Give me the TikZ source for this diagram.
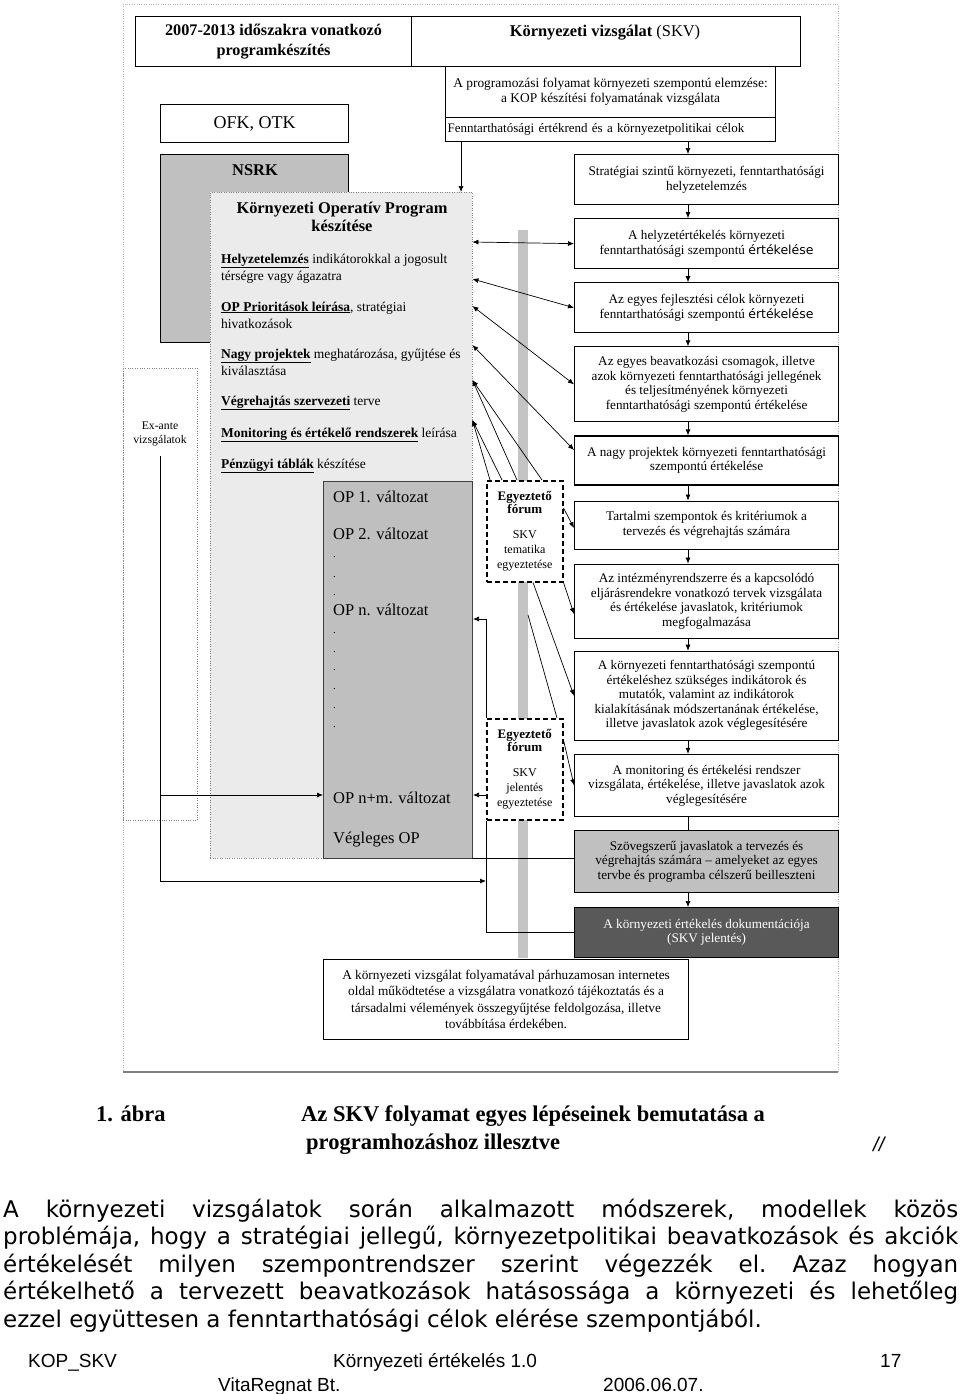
\documentclass[tikz,border=0pt]{standalone}
\usepackage{fontspec}
\setmainfont{Liberation Serif}
\newfontfamily\bodyfont{DejaVu Sans}
\newfontfamily\footfont{Liberation Sans}
\usetikzlibrary{arrows.meta,positioning}

\definecolor{nsrkgrey}{HTML}{C0C0C0}
\definecolor{kopgrey}{HTML}{EBEBEB}
\definecolor{opgrey}{HTML}{BFBFBF}
\definecolor{bargrey}{HTML}{C4C4C4}
\definecolor{docgrey}{HTML}{595959}

\newcommand{\boxfont}{\fontsize{13.2}{14.5}\selectfont}
\newcommand{\forumhead}{\bfseries\fontsize{13}{15}\selectfont}
\newcommand{\forumsmall}{\mdseries\fontsize{12}{15}\selectfont}
\newcommand{\kopitem}[1]{\underline{\textbf{#1}}}
\newcommand{\ertek}{{\bodyfont\fontsize{12.5}{14.5}\selectfont értékelése}}

\tikzset{
  skvbox/.style={draw=black, line width=1.1pt, fill=white, minimum width=264pt, inner sep=2pt, align=center, font=\boxfont},
  link/.style={-{Latex[length=6pt,width=5pt]}, line width=0.7pt},
  twoway/.style={{Latex[length=6pt,width=5pt]}-{Latex[length=6pt,width=5pt]}, line width=0.7pt},
  forum/.style={draw=black, dash pattern=on 5pt off 3pt, line width=1.5pt, fill=white, minimum width=76pt, minimum height=101pt, anchor=north west, align=center, inner sep=0pt, font=\fontsize{12}{15}\selectfont},
  optext/.style={anchor=base west, inner sep=0pt, font=\fontsize{16.5}{18}\selectfont},
  opdot/.style={anchor=base west, inner sep=0pt, font=\fontsize{11}{12}\selectfont},
  itemtext/.style={anchor=base west, align=left, inner sep=0pt, font=\fontsize{13.5}{17}\selectfont},
  bodyline/.style={anchor=base west, inner sep=0pt, font=\bodyfont\fontsize{23}{27.5}\selectfont\frenchspacing},
  footline/.style={anchor=base west, inner sep=0pt, font=\footfont\fontsize{19}{21}\selectfont},
}

\begin{document}
\begin{tikzpicture}[x=1pt,y=-1pt]
\fill[white] (0,0) rectangle (960,1394);
\useasboundingbox (0,0) rectangle (960,1394);

% outer frame
\draw[gray!60, dotted] (123,4) rectangle (838,1072);
\draw[gray, line width=2pt] (123,1072) -- (838,1072);

% headings
\node[draw, line width=1.1pt, minimum width=276pt, minimum height=50pt, anchor=north west, align=center, inner sep=0pt, font=\bfseries\fontsize{16.2}{20}\selectfont] (prog) at (135,16) {2007-2013 időszakra vonatkozó\\programkészítés};
\node[draw, line width=1.1pt, minimum width=389pt, minimum height=50pt, anchor=north west, inner sep=0pt] (skvhead) at (411,16) {};
\node[font=\fontsize{16.4}{18}\selectfont] (skvtitle) at (605,33) {\textbf{Környezeti vizsgálat} (SKV)};
\node[draw, line width=1.1pt, minimum width=330pt, minimum height=51pt, anchor=north west, align=center, inner sep=0pt, font=\fontsize{13.4}{15}\selectfont] (progelem) at (445,66) {A programozási folyamat környezeti szempontú elemzése:\\a KOP készítési folyamatának vizsgálata};
\node[draw, line width=1.1pt, minimum width=330pt, minimum height=24pt, anchor=north west, text width=326pt, align=left, inner sep=2pt, font=\fontsize{13}{14}\selectfont] (celok) at (445,117) {Fenntarthatósági értékrend és a környezetpolitikai célok};

% left column
\node[draw, line width=1.1pt, minimum width=188pt, minimum height=38pt, anchor=north west, font=\fontsize{18}{20}\selectfont] (ofk) at (160,104) {OFK, OTK};
\node[draw, line width=1.1pt, fill=nsrkgrey, minimum width=188pt, minimum height=188pt, anchor=north west] (nsrk) at (160,154) {};
\node[font=\bfseries\fontsize{16.4}{18}\selectfont] (nsrktext) at (255,170) {NSRK};
\node[draw=gray, dotted, minimum width=74pt, minimum height=452pt, anchor=north west] (exbox) at (123,368) {};
\node[align=center, font=\fontsize{11.7}{14}\selectfont] (exante) at (160,434) {Ex-ante\\vizsgálatok};
\node[draw=gray, dotted, fill=kopgrey, minimum width=262pt, minimum height=666pt, anchor=north west] (kop) at (210,192) {};
\node[align=center, font=\bfseries\fontsize{16.4}{18}\selectfont] (koptitle) at (342,217) {Környezeti Operatív Program\\készítése};
\node[itemtext] (item1) at (221,280) {\kopitem{Helyzetelemzés} indikátorokkal a jogosult\\térségre vagy ágazatra};
\node[itemtext] (item2) at (221,328) {\kopitem{OP Prioritások leírása}, stratégiai\\hivatkozások};
\node[itemtext] (item3) at (221,375) {\kopitem{Nagy projektek} meghatározása, gyűjtése és\\kiválasztása};
\node[itemtext] (item4) at (221,405) {\kopitem{Végrehajtás szervezeti} terve};
\node[itemtext] (item5) at (221,437) {\kopitem{Monitoring és értékelő rendszerek} leírása};
\node[itemtext] (item6) at (221,468) {\kopitem{Pénzügyi táblák} készítése};

% program versions
\node[draw=darkgray, line width=1pt, fill=opgrey, minimum width=149pt, minimum height=377pt, anchor=north west] (op) at (323,481) {};
\node[optext] (op1) at (333,502) {OP 1. változat};
\node[optext] (op2) at (333,539) {OP 2. változat};
\node[opdot] (dot1) at (333,557) {.};
\node[opdot] (dot2) at (333,577) {.};
\node[opdot] (dot3) at (333,595) {.};
\node[optext] (opn) at (333,615) {OP n. változat};
\node[opdot] (dot4) at (333,633) {.};
\node[opdot] (dot5) at (333,652) {.};
\node[opdot] (dot6) at (333,670) {.};
\node[opdot] (dot7) at (333,689) {.};
\node[opdot] (dot8) at (333,708) {.};
\node[opdot] (dot9) at (333,727) {.};
\node[optext] (opnm) at (333,803) {OP n+m. változat};
\node[optext] (opfinal) at (333,843) {Végleges OP};

% grey bar and forums
\node[fill=bargrey, minimum width=10pt, minimum height=728pt, anchor=north, inner sep=0pt] (bar) at (523,230) {};
\node[forum] (forum1) at (486,480) {\forumhead Egyeztető\\[-2pt]\forumhead fórum\\[10pt]\forumsmall SKV\\\forumsmall tematika\\\forumsmall egyeztetése};
\node[forum] (forum2) at (486,718) {\forumhead Egyeztető\\[-2pt]\forumhead fórum\\[10pt]\forumsmall SKV\\\forumsmall jelentés\\\forumsmall egyeztetése};

% SKV steps
\node[skvbox, minimum height=50pt, anchor=north west] (s1) at (574,154) {Stratégiai szintű környezeti, fenntarthatósági\\helyzetelemzés};
\node[skvbox, minimum height=50pt, below=13pt of s1] (s2) {A helyzetértékelés környezeti\\fenntarthatósági szempontú \ertek};
\node[skvbox, minimum height=50pt, below=13pt of s2] (s3) {Az egyes fejlesztési célok környezeti\\fenntarthatósági szempontú \ertek};
\node[skvbox, minimum height=75pt, below=13pt of s3] (s4) {Az egyes beavatkozási csomagok, illetve\\azok környezeti fenntarthatósági jellegének\\és teljesítményének környezeti\\fenntarthatósági szempontú értékelése};
\node[skvbox, minimum height=49pt, below=13pt of s4] (s5) {A nagy projektek környezeti fenntarthatósági\\szempontú értékelése};
\node[skvbox, minimum height=48pt, below=15pt of s5] (s6) {Tartalmi szempontok és kritériumok a\\tervezés és végrehajtás számára};
\node[skvbox, minimum height=74pt, below=14pt of s6] (s7) {Az intézményrendszerre és a kapcsolódó\\eljárásrendekre vonatkozó tervek vizsgálata\\és értékelése javaslatok, kritériumok\\megfogalmazása};
\node[skvbox, minimum height=89pt, below=12pt of s7] (s8) {A környezeti fenntarthatósági szempontú\\értékeléshez szükséges indikátorok és\\mutatók, valamint az indikátorok\\kialakításának módszertanának értékelése,\\illetve javaslatok azok véglegesítésére};
\node[skvbox, minimum height=62pt, below=13pt of s8] (s9) {A monitoring és értékelési rendszer\\vizsgálata, értékelése, illetve javaslatok azok\\véglegesítésére};
\node[skvbox, fill=nsrkgrey, minimum height=62pt, below=13pt of s9] (s10) {Szövegszerű javaslatok a tervezés és\\végrehajtás számára -- amelyeket az egyes\\tervbe és programba célszerű beilleszteni};
\node[skvbox, fill=docgrey, text=white, minimum height=50pt, below=14pt of s10] (s11) {A környezeti értékelés dokumentációja\\(SKV jelentés)};

\node[draw, line width=1.1pt, minimum width=365pt, minimum height=80pt, anchor=north west, align=center, font=\fontsize{13.3}{16.5}\selectfont] (web) at (323,959) {A környezeti vizsgálat folyamatával párhuzamosan internetes\\oldal működtetése a vizsgálatra vonatkozó tájékoztatás és a\\társadalmi vélemények összegyűjtése feldolgozása, illetve\\továbbítása érdekében.};

% connectors
\draw[link] (celok.south -| 461,0) -- (kop.north -| 461,0);
\draw[link] (celok.south -| 688,0) -- (s1.north -| 688,0);
\draw[link] (s1.south -| 688,0) -- (s2.north -| 688,0);
\draw[link] (s2.south -| 688,0) -- (s3.north -| 688,0);
\draw[link] (s3.south -| 688,0) -- (s4.north -| 688,0);
\draw[link] (s4.south -| 688,0) -- (s5.north -| 688,0);
\draw[link] (s5.south -| 688,0) -- (s6.north -| 688,0);
\draw[link] (s6.south -| 688,0) -- (s7.north -| 688,0);
\draw[link] (s7.south -| 688,0) -- (s8.north -| 688,0);
\draw[link] (s8.south -| 688,0) -- (s9.north -| 688,0);
\draw[line width=0.7pt] (s9.south -| 688,0) -- (s10.north -| 688,0);
\draw[link] (s10.south -| 688,0) -- (s11.north -| 688,0);

\draw[twoway] (kop.east |- 0,242) -- (s2.west);
\draw[twoway] (kop.east |- 0,279) -- (s3.west);
\draw[twoway] (kop.east |- 0,306) -- (s4.west);
\draw[twoway] (kop.east |- 0,345) -- (s5.west |- 0,450);
\draw[link] (forum1.north -| 517,0) -- (kop.east |- 0,380);
\draw[link] (forum1.north -| 542,0) -- (kop.east |- 0,380);
\draw[link] (forum1.north -| 490,0) -- (kop.east |- 0,420);
\draw[link] (forum1.north -| 502,0) -- (kop.east |- 0,420);
\draw[link] (forum1.east |- 0,508) -- (s6.west |- 0,528);
\draw[link] (forum1.south east) -- (s7.west |- 0,614);
\draw[link] (forum1.south -| 533,0) -- (s8.west);
\coordinate (barmid) at (528,615);
\draw[line width=0.7pt] (barmid) -- (forum2.north -| 557,0);
\draw[link] (forum2.east |- 0,740) -- (s9.west);
\draw[link] (forum2.north west) |- (op.east |- 0,619);
\draw[link] (forum2.west |- 0,795) -- (op.east |- 0,795);
\draw[line width=0.7pt] (forum2.south west) |- (s11.west);
\draw[line width=0.7pt] (kop.south east) -- (s10.west |- kop.south east);

\coordinate (extop) at (160,456);
\coordinate (exop) at (160,795);
\coordinate (exbend) at (160,881);
\draw[line width=0.7pt] (extop) -- (exbend);
\draw[link] (exop) -- (op.west |- exop);
\draw[link] (exbend) -- (forum2.south west |- exbend);

% caption
\node[anchor=base west, inner sep=0pt, font=\bfseries\fontsize{22.5}{28}\selectfont] (figno) at (96,1121) {1. ábra};
\node[anchor=base west, inner sep=0pt, font=\bfseries\fontsize{22.5}{28}\selectfont] (cap1) at (301,1121) {Az SKV folyamat egyes lépéseinek bemutatása a};
\node[anchor=base west, inner sep=0pt, font=\bfseries\fontsize{22.5}{28}\selectfont] (cap2) at (306,1149) {programhozáshoz illesztve};
\node[anchor=base west, inner sep=0pt, font=\footfont\itshape\fontsize{20}{24}\selectfont] (slashes) at (873,1151) {//};

% body text
\node[bodyline] (line1) at (3,1217) {\makebox[955pt][s]{A környezeti vizsgálatok során alkalmazott módszerek, modellek közös}};
\node[bodyline] (line2) at (3,1244) {\makebox[955pt][s]{problémája, hogy a stratégiai jellegű, környezetpolitikai beavatkozások és akciók}};
\node[bodyline] (line3) at (3,1272) {\makebox[955pt][s]{értékelését milyen szempontrendszer szerint végezzék el. Azaz hogyan}};
\node[bodyline] (line4) at (3,1299) {\makebox[955pt][s]{értékelhető a tervezett beavatkozások hatásossága a környezeti és lehetőleg}};
\node[bodyline] (line5) at (3,1327) {ezzel együttesen a fenntarthatósági célok elérése szempontjából.};

% footer
\node[footline] (foot1) at (28,1367) {KOP\_SKV};
\node[footline] (foot2) at (333,1367) {Környezeti értékelés 1.0};
\node[footline] (foot3) at (880,1367) {17};
\node[footline] (foot4) at (218,1391) {VitaRegnat Bt.};
\node[footline] (foot5) at (603,1391) {2006.06.07.};
\end{tikzpicture}
\end{document}
